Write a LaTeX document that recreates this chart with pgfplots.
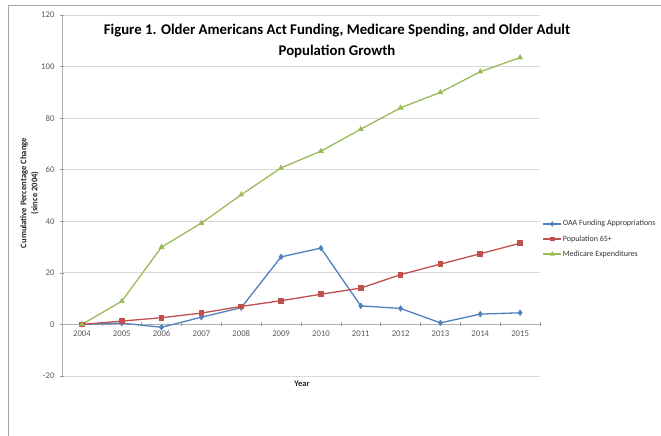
\documentclass[border=0pt]{standalone}
\usepackage{pgfplots}
\pgfplotsset{compat=1.18}
\usepackage{fontspec}
\setmainfont{Carlito}
\definecolor{oaa}{HTML}{4F81BD}
\definecolor{pop}{HTML}{C0504D}
\definecolor{med}{HTML}{9BBB59}
\definecolor{gridc}{HTML}{D9D9D9}
\definecolor{txt}{HTML}{595959}
\begin{document}
\begin{tikzpicture}[x=1pt,y=1pt]
\useasboundingbox (0,0) rectangle (661,436);
\draw[gray!70, line width=0.8pt] (8,0) -- (8,431) -- (661,431);
\begin{axis}[
  at={(62pt,60pt)}, anchor=south west,
  scale only axis, width=478pt, height=361pt,
  xmin=-0.5, xmax=11.5, ymin=-20, ymax=120,
  ytick={-20,0,20,40,60,80,100,120},
  xtick={0,...,11},
  xticklabels={2004,2005,2006,2007,2008,2009,2010,2011,2012,2013,2014,2015},
  minor xtick={-0.5,0.5,...,11.5},
  major x tick style={draw=none},
  minor x tick style={gridc!70!black, line width=0.6pt},
  minor tick length=4pt,
  ytick style={gridc!70!black, line width=0.6pt},
  major tick length=4pt,
  axis x line=middle, axis y line=left,
  axis line style={gridc!80!black, line width=0.8pt, -},
  ymajorgrids, grid style={gridc, line width=0.8pt},
  tick label style={font=\fontsize{8.7}{10}\selectfont, text=txt},
  /pgf/number format/assume math mode=true,
  xticklabel style={yshift=-1pt},
  yticklabel style={xshift=-2pt},
  clip=false,
  legend cell align=left,
  legend style={at={(1.005,0.437)}, anchor=north west, draw=none, fill=none,
    font=\fontsize{8}{10}\selectfont, text=black!80, row sep=4pt, inner sep=0pt,
    nodes={inner xsep=1pt}},
  legend image code/.code={\draw[#1, mark repeat=2, mark phase=2, mark size=1.7pt] plot coordinates {(0pt,0pt) (9pt,0pt) (18pt,0pt)};},
]
\addplot[oaa, line width=1.3pt, mark=diamond*, mark size=2.2pt] coordinates {
(0,0) (1,0.5) (2,-1.1) (3,2.8) (4,6.5) (5,26.2) (6,29.6) (7,7.2) (8,6.2) (9,0.6) (10,4.0) (11,4.5)};
\addlegendentry{OAA Funding Appropriations}
\addplot[pop, line width=1.3pt, mark=square*, mark size=2.2pt] coordinates {
(0,0) (1,1.3) (2,2.6) (3,4.4) (4,7.0) (5,9.2) (6,11.7) (7,14.1) (8,19.3) (9,23.4) (10,27.4) (11,31.5)};
\addlegendentry{Population 65+}
\addplot[med, line width=1.3pt, mark=triangle*, mark size=2.2pt] coordinates {
(0,0) (1,9.0) (2,30.0) (3,39.3) (4,50.3) (5,60.7) (6,67.2) (7,75.7) (8,84.0) (9,90.0) (10,98.0) (11,103.5)};
\addlegendentry{Medicare Expenditures}
\end{axis}
\node[font=\fontsize{14.8}{20.5}\selectfont\bfseries, align=center] at (337,395) {Figure 1. Older Americans Act Funding, Medicare Spending, and Older Adult\\Population Growth};
\node[font=\fontsize{8.6}{11}\selectfont\bfseries, align=center, rotate=90, text=black!85] at (29.5,243) {Cumulative Percentage Change\\(since 2004)};
\node[font=\fontsize{8.5}{10}\selectfont\bfseries, text=black!85] at (302,52) {Year};
\end{tikzpicture}
\end{document}
